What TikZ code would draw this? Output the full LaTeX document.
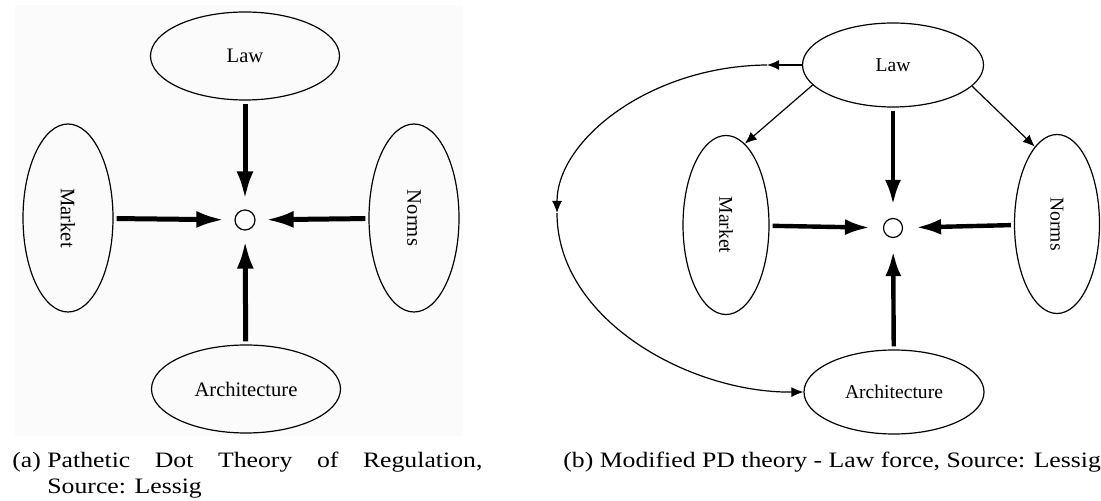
\documentclass[tikz,border=0pt]{standalone}
\usepackage{fontspec}
\setmainfont{Liberation Serif}
\newfontfamily\capfont[FakeStretch=1.17]{Liberation Serif}
\usepackage{graphicx}
\usetikzlibrary{shapes.geometric,arrows.meta}

\begin{document}
\begin{tikzpicture}[x=0.5pt,y=-0.5pt,
    oval/.style={draw,ellipse,line width=0.6pt,inner sep=0pt},
    dotmark/.style={draw,circle,line width=0.6pt,inner sep=0pt},
    tagA/.style={font=\fontsize{10.3}{12}\selectfont},
    tagB/.style={font=\fontsize{9.8}{12}\selectfont},
    forceA/.style={line width=2.5pt,-{Latex[length=14pt,width=8.5pt]},
        shorten <=1.5pt,shorten >=5pt},
    forceB/.style={line width=2.2pt,-{Latex[length=12.5pt,width=8pt]},
        shorten <=1.5pt,shorten >=6.5pt},
    thinlink/.style={line width=0.6pt,-{Latex[length=6pt,width=5pt]}},
    capt/.style={inner sep=0pt,anchor=base west,
        font=\capfont\fontsize{11}{13}\selectfont}]
    \useasboundingbox (0,0) rectangle (1101,501);
    \fill[black!1.5] (15,5) rectangle (463,436);

    % (a) pathetic dot
    \node[dotmark,minimum size=10pt] (dot1) at (245,220) {};
    \node[oval,tagA,minimum width=94.5pt,minimum height=44pt] (law1) at (245,56) {Law};
    \node[oval,tagA,minimum width=45pt,minimum height=94pt] (market1) at (68,218) {\rotatebox{-90}{Market}};
    \node[oval,tagA,minimum width=45pt,minimum height=94pt] (norms1) at (414,218) {\rotatebox{-90}{Norms}};
    \node[oval,tagA,minimum width=94.5pt,minimum height=44pt] (arch1) at (246,389) {Architecture};

    \draw [forceA] (law1) -- (dot1);
    \draw [forceA] (market1) -- (dot1);
    \draw [forceA] (norms1) -- (dot1);
    \draw [forceA] (arch1) -- (dot1);

    % (b) modified, law acting on the others
    \node[dotmark,minimum size=9.5pt] (dot2) at (893,228) {};
    \node[oval,tagB,minimum width=90.5pt,minimum height=42pt] (law2) at (893,65) {Law};
    \node[oval,tagB,minimum width=43pt,minimum height=89.5pt] (market2) at (726,225) {\rotatebox{-90}{Market}};
    \node[oval,tagB,minimum width=42.5pt,minimum height=89.5pt] (norms2) at (1057,224) {\rotatebox{-90}{Norms}};
    \node[oval,tagB,minimum width=90pt,minimum height=42pt] (arch2) at (894,392) {Architecture};

    \draw [forceB] (law2) -- (dot2);
    \draw [forceB] (market2) -- (dot2);
    \draw [forceB] (norms2) -- (dot2);
    \draw [forceB] (arch2) -- (dot2);

    \draw [thinlink] (law2.194) -- (market2.77);
    \draw [thinlink] (law2.345) -- (norms2.106);

    \coordinate (loopTop) at (767,65);
    \coordinate (loopLeft) at (557,213);
    \draw [thinlink] (law2.west) -- (loopTop);
    \draw [thinlink] (loopTop) .. controls (650,66) and (557,140) .. (loopLeft);
    \draw [thinlink] (loopLeft) .. controls (557,320) and (690,393) .. (arch2.west);

    % captions
    \node[capt] (capA) at (12,467) {(a)};
    \node[capt,text width=217.5pt,align=justify] (capAtext) at (47,467)
        {Pathetic Dot Theory of Regulation,\linebreak Source: Lessig};
    \node[capt] (capB) at (563,467) {(b) Modified PD theory - Law force, Source: Lessig};
\end{tikzpicture}
\end{document}
